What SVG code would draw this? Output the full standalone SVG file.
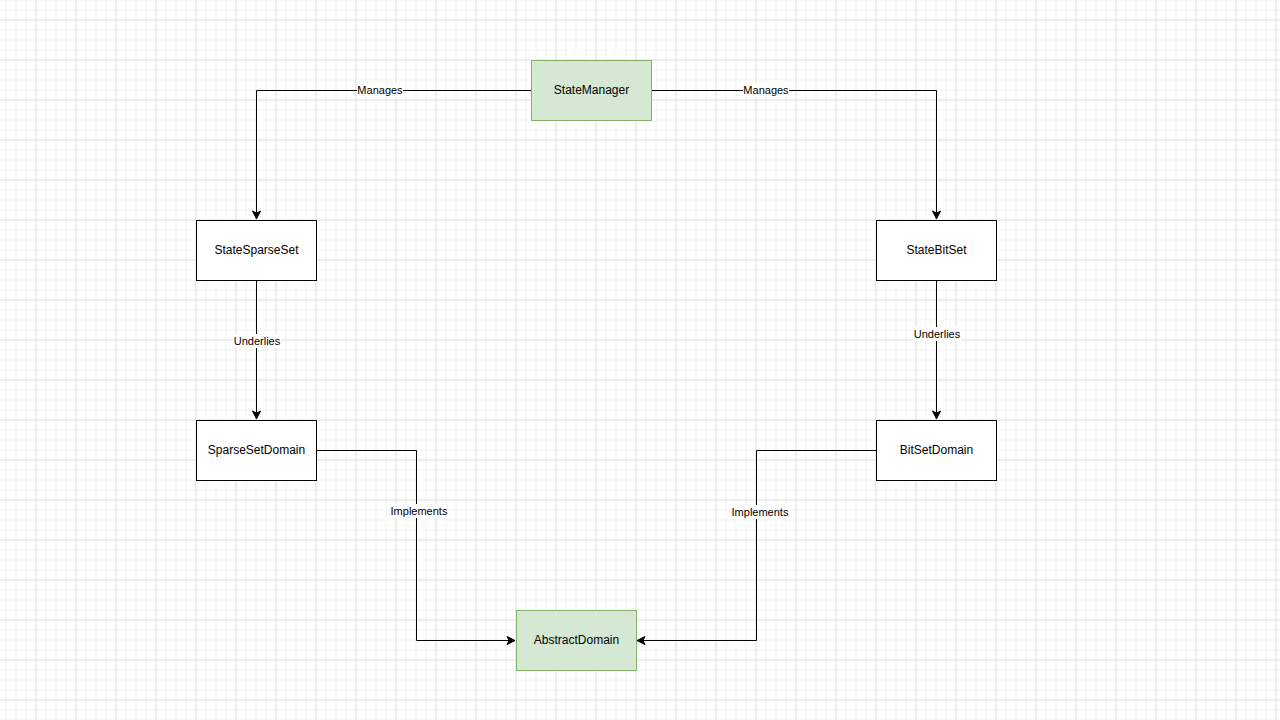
<svg xmlns="http://www.w3.org/2000/svg" width="1280" height="720" viewBox="0 0 1280 720">
<defs>
<pattern id="minor" x="5.5" y="-0.5" width="10" height="10" patternUnits="userSpaceOnUse">
<path d="M0 0.5H10M0.5 0V10" fill="none" stroke="#f3f3f3" stroke-width="1"/>
</pattern>
<pattern id="major" x="35.5" y="19.5" width="40" height="40" patternUnits="userSpaceOnUse">
<path d="M0 0.5H40M0.5 0V40" fill="none" stroke="#e2e2e2" stroke-width="1"/>
</pattern>
<marker id="arr" viewBox="0 0 10 10" refX="9" refY="5" markerWidth="10" markerHeight="10" markerUnits="userSpaceOnUse" orient="auto">
<path d="M1 1L9 5L1 9L3 5Z" fill="#000" stroke="#000" stroke-width="1"/>
</marker>
</defs>
<style>
.n rect{fill:#fff;stroke:#000;stroke-width:1}
.g rect{fill:#d5e8d4;stroke:#82b366}
.n text{font-family:"Liberation Sans",Arial,sans-serif;font-size:12px;fill:#000;text-anchor:middle;dominant-baseline:central}
.e path{fill:none;stroke:#000;stroke-width:1}
.lbl rect{fill:#fff}
.lbl text{font-family:"Liberation Sans",Arial,sans-serif;font-size:11px;fill:#000;text-anchor:middle;dominant-baseline:central}
</style>
<rect width="1280" height="720" fill="#fff"/>
<rect width="1280" height="720" fill="url(#minor)"/>
<rect width="1280" height="720" fill="url(#major)"/>
<g id="connectors" class="e">
<path d="M531 90.5H256.5V219" marker-end="url(#arr)"/>
<path d="M651 90.5H936.5V219" marker-end="url(#arr)"/>
<path d="M256.5 280V419" marker-end="url(#arr)"/>
<path d="M936.5 280V419" marker-end="url(#arr)"/>
<path d="M316 450.5H416.5V640.5H515" marker-end="url(#arr)"/>
<path d="M876 450.5H756.5V640.5H637" marker-end="url(#arr)"/>
<g class="lbl">
<rect x="357" y="83" width="46" height="14"/><text x="380" y="90">Manages</text>
<rect x="743" y="83" width="46" height="14"/><text x="766" y="90">Manages</text>
<rect x="233" y="334" width="48" height="14"/><text x="257" y="341">Underlies</text>
<rect x="913" y="327" width="48" height="14"/><text x="937" y="334">Underlies</text>
<rect x="389" y="504" width="62" height="14"/><text x="419" y="511">Implements</text>
<rect x="730" y="505" width="62" height="14"/><text x="760" y="512">Implements</text>
</g>
</g>
<g id="StateManager" class="n g"><rect x="531.5" y="60.5" width="120" height="60"/><text x="591.5" y="90">StateManager</text></g>
<g id="StateSparseSet" class="n"><rect x="196.5" y="220.5" width="120" height="60"/><text x="256.5" y="250">StateSparseSet</text></g>
<g id="StateBitSet" class="n"><rect x="876.5" y="220.5" width="120" height="60"/><text x="936.5" y="250">StateBitSet</text></g>
<g id="SparseSetDomain" class="n"><rect x="196.5" y="420.5" width="120" height="60"/><text x="256.5" y="450">SparseSetDomain</text></g>
<g id="BitSetDomain" class="n"><rect x="876.5" y="420.5" width="120" height="60"/><text x="936.5" y="450">BitSetDomain</text></g>
<g id="AbstractDomain" class="n g"><rect x="516.5" y="610.5" width="120" height="60"/><text x="576.5" y="640">AbstractDomain</text></g>
</svg>
